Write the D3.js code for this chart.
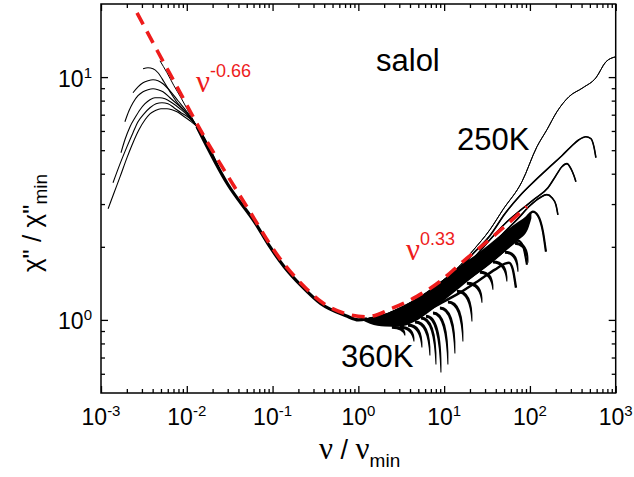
<!DOCTYPE html>
<html><head><meta charset="utf-8">
<script src="https://cdn.jsdelivr.net/npm/d3@7"></script>
<style>
html,body{margin:0;padding:0;background:#fff;}
svg{display:block;}
text{font-family:"Liberation Sans",Arial,Helvetica,sans-serif;fill:#000;}
</style></head><body>
<svg id="chart" width="634" height="477"></svg>
<script>
// ---- axis ticks (decade exponents) ----
const xTickDecades = [-3, -2, -1, 0, 1, 2, 3];
const yTickDecades = [0, 1];

// ---- low-frequency branches (alpha peak side), one per temperature, 250K ... 360K ----
const lowBranch = [
  [[0.00487,11.67],[0.00588,10.42],[0.00709,9.21],[0.00856,8.22],[0.01005,7.41]],
  [[0.00309,10.82],[0.00353,10.92],[0.00404,10.82],[0.00462,10.42],[0.00542,9.57],[0.00637,8.70],[0.0079,7.77],[0.01005,7.13]],
  [[0.00236,8.62],[0.0027,9.12],[0.00309,9.48],[0.00353,9.66],[0.00404,9.75],[0.00462,9.66],[0.00528,9.39],[0.00637,8.78],[0.0079,7.99],[0.01005,7.20]],
  [[0.0019,6.55],[0.00212,7.27],[0.00236,7.84],[0.0027,8.38],[0.00309,8.70],[0.00353,8.87],[0.00404,8.95],[0.00462,8.87],[0.00528,8.70],[0.00637,8.22],[0.0079,7.69],[0.01033,7.0]],
  [[0.00171,4.88],[0.0019,5.52],[0.00218,6.25],[0.00249,6.80],[0.00285,7.34],[0.00326,7.77],[0.00372,8.07],[0.00426,8.22],[0.00487,8.22],[0.00557,8.14],[0.00672,7.84],[0.00833,7.41],[0.01033,6.93]],
  [[0.00138,3.67],[0.00167,4.40],[0.00201,5.17],[0.00236,5.90],[0.0027,6.55],[0.00317,7.06],[0.00372,7.48],[0.00438,7.77],[0.00514,7.84],[0.00604,7.77],[0.00709,7.48],[0.00856,7.13],[0.01061,6.80]],
  [[0.00121,2.87],[0.00142,3.34],[0.00167,3.89],[0.00201,4.66],[0.00236,5.37],[0.00277,6.07],[0.00326,6.67],[0.00372,7.06],[0.00426,7.27],[0.005,7.41],[0.00588,7.41],[0.00672,7.34],[0.00769,7.20],[0.00903,6.93],[0.0109,6.61]]
];

// ---- common (collapsed) part of all spectra around the minimum ----
const masterBranch = [[0.01315,6.25],[0.03,3.62],[0.0641,2.48],[0.0906,2.03],[0.1358,1.66],[0.2214,1.37],[0.366,1.165],[0.717,1.04],[1.0,1.0],[1.26,1.01]];

// ---- high-frequency branches, 250K ... 360K ----
const highBranch = [
  [[2.335,1.072],[4.33,1.19],[8.93,1.424],[15.28,1.673],[21.66,1.93],[34.19,2.353],[48.45,2.844],[80.72,3.707],[120.7,5.167],[157.8,6.07],[206.4,7.20],[284.8,8.30],[414.7,9.04],[587.8,9.93],[768.9,11.56],[1000,12.12]],
  [[2.335,1.07],[4.33,1.19],[8.93,1.397],[15.28,1.641],[22.86,1.91],[34.19,2.223],[51.13,2.738],[76.44,3.248],[114.4,3.745],[171.1,4.275],[236,4.745],[300.6,5.167],[372.5,5.52],[449.4,5.68],[514,5.58],[557,5.17],[587.8,4.66]],
  [[2.335,1.06],[4.33,1.18],[8.93,1.37],[15.28,1.60],[22.86,1.82],[34.19,2.14],[51.13,2.49],[76.44,2.818],[114.4,3.157],[162.2,3.50],[200.9,3.93],[236,4.275],[269.9,4.40],[300.6,4.195],[325.7,3.93],[343.6,3.71]],
  [[2.335,1.05],[4.33,1.155],[8.93,1.33],[15.28,1.535],[22.86,1.738],[34.19,1.984],[51.13,2.309],[72.46,2.612],[100,2.954],[130.8,3.186],[157.8,3.28],[180.5,3.186],[200.9,2.98],[212,2.71]],
  [[2.335,1.04],[4.33,1.145],[8.93,1.32],[15.28,1.51],[26.14,1.738],[44.71,2.061],[66.88,2.353],[92.3,2.661],[108.4,2.791],[124,2.687],[141.8,2.309],[153.7,1.91]],
  [[2.335,1.02],[4.33,1.10],[8.93,1.247],[15.28,1.397],[26.14,1.595],[44.71,1.857],[61.68,2.061],[72.46,2.12],[82.86,2.02],[92.3,1.69]],
  [[2.042,0.984],[3.054,0.99],[5.224,1.06],[8.93,1.167],[15.28,1.295],[26.14,1.465],[39.09,1.611],[51.13,1.705],[57,1.72],[63,1.62],[68.7,1.358]]
];

// ---- scatter of the noisy high-temperature data: [nu, low, high] ----
const noiseBand = [[1.1,1.0,1.008],[1.365,0.965,1.025],[2.042,0.94,1.06],[3.054,0.938,1.12],[4.567,0.984,1.215],[6.832,1.082,1.335],[10.22,1.212,1.48],[15.28,1.358,1.67],[22.86,1.522,1.84],[34.19,1.705,2.06],[51.13,1.91,2.31],[72.46,2.121,2.53],[94.78,2.36,2.70],[104,2.62,2.76]];

// ---- downward spikes of the noisy data: [nu start, value start, nu end, value end] ----
const spikes = [
  [2.46,0.938,3.49,0.862],[3.05,0.938,4.45,0.814],[3.79,0.956,5.51,0.769],[4.57,0.984,6.83,0.713],
  [5.37,1.022,8.03,0.655],[6.14,1.041,9.18,0.607],[7.41,1.072,11.07,0.655],[8.93,1.124,13.36,0.727],
  [11.07,1.19,16.56,0.814],[14.1,1.32,21.1,0.984],[18.4,1.424,27.6,1.178],[26.1,1.58,37.05,1.332],
  [37.05,1.738,53.9,1.438],[51.1,1.91,72.5,1.58],[66.9,2.081,94.8,1.721]
];

// ---- power-law guide (nu^-0.66 and nu^0.33 wings) ----
const powerLawGuide = [[0.00263,18.4],[0.0045,12.9],[0.00769,9.12],[0.01315,6.42],[0.0641,2.54],[0.0906,2.08],[0.1358,1.70],[0.2214,1.40],[0.366,1.19],[0.717,1.06],[1.26,1.03],[2.53,1.12],[4.82,1.25],[8.93,1.44],[16.6,1.74],[31.6,2.10],[92.3,2.93]];

const RED = "#ee1c1c";

const svg = d3.select("#chart");
const plot = {left: 101, right: 615.7, top: 4, bottom: 393};

const x = d3.scaleLog().domain([1e-3, 1e3]).range([plot.left, plot.right]);
const y = d3.scaleLog().domain([0.5, 20]).range([plot.bottom, plot.top]);

svg.append("defs").append("clipPath").attr("id", "plotClip")
  .append("rect").attr("x", plot.left).attr("y", plot.top)
  .attr("width", plot.right - plot.left).attr("height", plot.bottom - plot.top);

const dataLayer = svg.append("g").attr("clip-path", "url(#plotClip)");

const line = d3.line().x(d => x(d[0])).y(d => y(d[1])).curve(d3.curveMonotoneX);

// noisy scatter band
dataLayer.append("path")
  .datum(noiseBand)
  .attr("d", d3.area().x(d => x(d[0])).y0(d => y(d[1])).y1(d => y(d[2])).curve(d3.curveMonotoneX))
  .attr("fill", "#000");

// downward spikes (tusk shapes)
dataLayer.append("g").selectAll("path").data(spikes).join("path")
  .attr("d", d => {
    const xa = x(d[0]), ya = y(d[1]), xt = x(d[2]), yt = y(d[3]);
    return `M${xa},${ya - 1}Q${xt + 1.5},${ya - 1} ${xt + 0.5},${yt}` +
           `L${xt - 0.5},${yt}Q${xt - 2.5},${ya + 2} ${xa},${ya + 2}Z`;
  })
  .attr("fill", "#000");

// individual spectra
const strokeW = [1.0, 1.6, 1.6, 1.6, 2.2, 2.2, 2.4];
lowBranch.forEach((lo, i) => {
  const pts = lo.concat(masterBranch, highBranch[i]);
  dataLayer.append("path").datum(pts)
    .attr("d", line).attr("fill", "none")
    .attr("stroke", "#000").attr("stroke-width", i === 0 ? 1.0 : 1.1)
    .attr("stroke-linejoin", "round");
  dataLayer.append("path").datum(highBranch[i])
    .attr("d", line).attr("fill", "none")
    .attr("stroke", "#000").attr("stroke-width", strokeW[i]);
});

// collapsed bundle of overlapping spectra
dataLayer.append("path").datum(masterBranch)
  .attr("d", line).attr("fill", "none")
  .attr("stroke", "#000").attr("stroke-width", 3.2);

// power-law guide
dataLayer.append("path").datum(powerLawGuide)
  .attr("d", line).attr("fill", "none")
  .attr("stroke", RED).attr("stroke-width", 3.6)
  .attr("stroke-dasharray", "13,8");

// ---- axes: ticks on all four sides, pointing inward ----
const xMajor = xTickDecades.map(k => Math.pow(10, k));
const xMinor = [];
for (let k = -3; k < 3; k++) for (let m = 2; m <= 9; m++) xMinor.push(m * Math.pow(10, k));
const yMajor = yTickDecades.map(k => Math.pow(10, k));
const yMinor = [0.6, 0.7, 0.8, 0.9, 2, 3, 4, 5, 6, 7, 8, 9];

function drawAxis(gen, tx, ty, values, size) {
  const g = svg.append("g").attr("transform", `translate(${tx},${ty})`)
    .call(gen.tickValues(values).tickSizeInner(-size).tickSizeOuter(0).tickFormat(() => ""));
  g.select(".domain").remove();
  g.selectAll(".tick line").attr("stroke", "#000").attr("stroke-width", 1.3);
  g.selectAll(".tick text").remove();
}
drawAxis(d3.axisBottom(x), 0, plot.bottom, xMajor, 7);
drawAxis(d3.axisBottom(x), 0, plot.bottom, xMinor, 4);
drawAxis(d3.axisTop(x), 0, plot.top, xMajor, 7);
drawAxis(d3.axisTop(x), 0, plot.top, xMinor, 4);
drawAxis(d3.axisLeft(y), plot.left, 0, yMajor, 7);
drawAxis(d3.axisLeft(y), plot.left, 0, yMinor, 4);
drawAxis(d3.axisRight(y), plot.right, 0, yMajor, 7);
drawAxis(d3.axisRight(y), plot.right, 0, yMinor, 4);

svg.append("rect")
  .attr("x", plot.left).attr("y", plot.top)
  .attr("width", plot.right - plot.left).attr("height", plot.bottom - plot.top)
  .attr("fill", "none").attr("stroke", "#000").attr("stroke-width", 1.5);

// tick labels 10^k
function powerLabel(sel, k) {
  sel.append("tspan").text("10");
  sel.append("tspan").attr("dy", -9).style("font-size", "15px").text(k < 0 ? "-" + (-k) : String(k));
}
svg.append("g").selectAll("text").data(xTickDecades).join("text")
  .attr("x", k => x(Math.pow(10, k))).attr("y", 425)
  .attr("text-anchor", "middle").style("font-size", "23px")
  .each(function (k) { powerLabel(d3.select(this), k); });

svg.append("g").selectAll("text").data(yTickDecades).join("text")
  .attr("x", 92).attr("y", k => y(Math.pow(10, k)) + 9.5)
  .attr("text-anchor", "end").style("font-size", "23px")
  .each(function (k) { powerLabel(d3.select(this), k); });

// axis titles
const xt = svg.append("text").attr("x", 319).attr("y", 459).style("font-size", "27px");
xt.append("tspan").style("font-family", "'Liberation Serif',serif").style("font-size", "31px").text("ν");
xt.append("tspan").text(" / ");
xt.append("tspan").style("font-family", "'Liberation Serif',serif").style("font-size", "31px").text("ν");
xt.append("tspan").attr("dy", 8).style("font-size", "19px").text("min");

const yt = svg.append("text").attr("transform", "translate(41,223) rotate(-90)")
  .attr("text-anchor", "middle").style("font-size", "26px");
yt.append("tspan").text("χ\" / χ\"");
yt.append("tspan").attr("dy", 6).style("font-size", "19px").text("min");

// annotations
svg.append("text").attr("x", 376).attr("y", 71).style("font-size", "31px").text("salol");
svg.append("text").attr("x", 457).attr("y", 150).style("font-size", "31px").text("250K");
svg.append("text").attr("x", 341).attr("y", 367).style("font-size", "31px").text("360K");

function powerNote(px, py, expo) {
  const t = svg.append("text").attr("x", px).attr("y", py);
  t.append("tspan").style("font-family", "'Liberation Serif',serif").style("font-size", "31px")
    .style("fill", RED).text("ν");
  t.append("tspan").attr("dy", -15).style("font-size", "18px").style("fill", RED).text(expo);
}
powerNote(196, 92, "-0.66");
powerNote(406, 260, "0.33");
</script>
</body></html>
